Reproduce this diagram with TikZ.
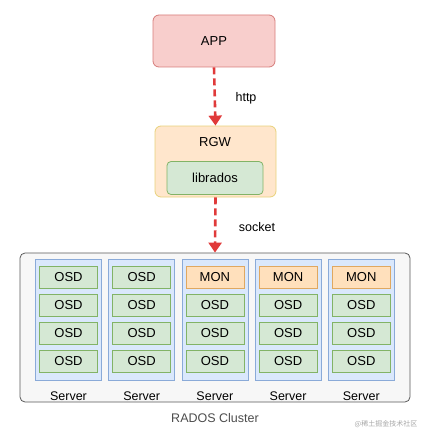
\documentclass[tikz,border=0pt]{standalone}
\usepackage{fontspec}
\setmainfont{Liberation Sans}
\usepackage{tikz}
\usetikzlibrary{arrows.meta}
\definecolor{appfill}{HTML}{F8CECC}
\definecolor{appline}{HTML}{D67C7A}
\definecolor{gwfill}{HTML}{FFE6CC}
\definecolor{gwline}{HTML}{E8D27A}
\definecolor{osdfill}{HTML}{D5E8D4}
\definecolor{osdline}{HTML}{82B366}
\definecolor{monfill}{HTML}{FFE0BC}
\definecolor{monline}{HTML}{E0A860}
\definecolor{srvfill}{HTML}{DAE8FC}
\definecolor{srvline}{HTML}{8AAAD8}
\definecolor{flow}{HTML}{E03A3A}
\tikzset{
  box/.style={draw, rectangle, inner sep=0pt, line width=0.8pt},
  disk/.style={box, minimum width=58pt, minimum height=22pt, fill=osdfill, draw=osdline, font=\fontsize{13}{14}\selectfont},
  mondisk/.style={disk, fill=monfill, draw=monline},
  flowarrow/.style={draw=flow, line width=2.6pt, dash pattern=on 7pt off 4pt, -{Triangle[width=13pt,length=10pt]}}
}

\begin{document}
\begin{tikzpicture}[x=1pt, y=-1pt]
		%%%%% START %%%%%
		\useasboundingbox (0, 0) rectangle (432, 433);
		
		\node[box, rounded corners=6pt, fill=appfill, draw=appline, minimum width=122pt, minimum height=52pt, font=\fontsize{13}{14}\selectfont] (app) at (214, 41) {APP};
		
		\node[box, rounded corners=6pt, fill=gwfill, draw=gwline, minimum width=121pt, minimum height=71pt] (rgw) at (215.5, 161.5) {};
		\node[font=\fontsize{13}{14}\selectfont] (rgwlabel) at (215, 142) {RGW};
		\node[box, rounded corners=4pt, fill=osdfill, draw=osdline, minimum width=96pt, minimum height=33pt, font=\fontsize{13}{14}\selectfont] (librados) at (215, 178) {librados};
		
		\node[box, rounded corners=5pt, fill=black!3, draw=black!65, minimum width=390pt, minimum height=149pt] (cluster) at (215, 327.5) {};
		
		\draw[flowarrow] (app.south) -- (rgw.north);
		\draw[flowarrow] (rgw.south) -- (cluster.north);
		\node[font=\fontsize{12.5}{14}\selectfont] (http) at (246, 98) {http};
		\node[font=\fontsize{12.5}{14}\selectfont] (socket) at (257, 227) {socket};
		
		\foreach \i/\top/\topstyle in {0/OSD/disk, 1/OSD/disk, 2/MON/mondisk, 3/MON/mondisk, 4/MON/mondisk} {
			\node[box, fill=srvfill, draw=srvline, minimum width=66pt, minimum height=121pt] (srv\i) at (68.5+73.2*\i, 319.5) {};
			\node[\topstyle] (top\i) at (68.5+73.2*\i, 277.5) {\top};
			\foreach \j in {1, 2, 3} {
				\node[disk] (osd\i\j) at (68.5+73.2*\i, 277.5+27.8*\j) {OSD};
			}
			\node[font=\fontsize{12.5}{14}\selectfont] (name\i) at (68.5+73.2*\i, 396) {Server};
		}
		
		\node[font=\fontsize{12.5}{14}\selectfont, text=black!70] (rados) at (215, 418) {RADOS Cluster};
		\node[font=\fontspec{Noto Sans CJK SC}\fontsize{7}{8}\selectfont, text=black!35] (mark) at (386, 424) {@稀土掘金技术社区};
		
		%%%%% END %%%%%
	\end{tikzpicture}
\end{document}
